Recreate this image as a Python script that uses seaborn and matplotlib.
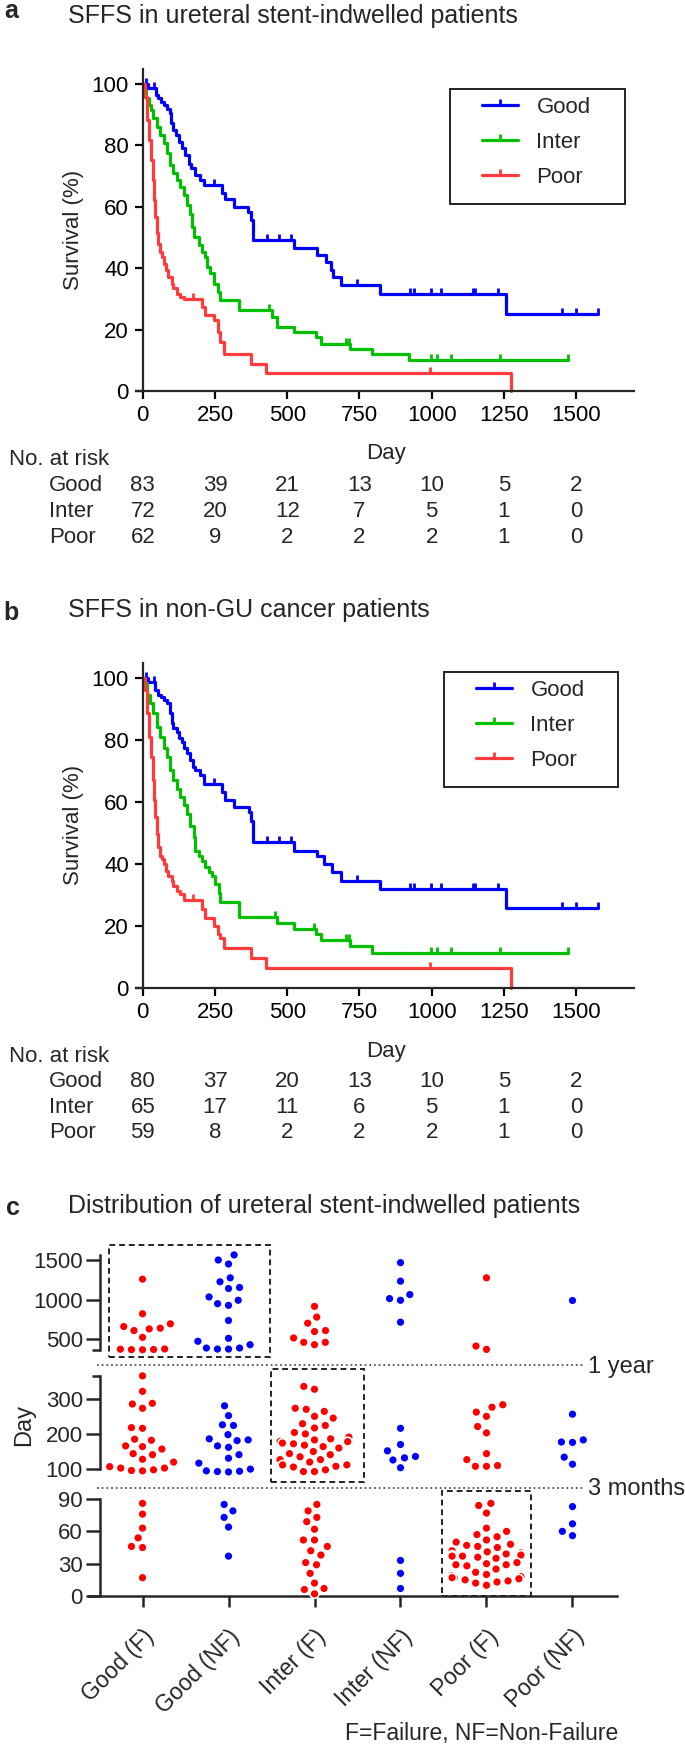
import numpy as np
import pandas as pd
import matplotlib
matplotlib.use('Agg')
import matplotlib.pyplot as plt
from matplotlib.lines import Line2D
from matplotlib.patches import Rectangle
from matplotlib.path import Path
from matplotlib.transforms import blended_transform_factory
import seaborn as sns

sns.set_style('ticks')
plt.rcParams['font.family'] = ['Liberation Sans', 'DejaVu Sans']

# ---------------- data: Kaplan-Meier curves (day, survival %) ----------------
x_ticks = [0, 250, 500, 750, 1000, 1250, 1500]
groups = ['Good', 'Inter', 'Poor']

a_good_day = [0, 18, 46, 54, 62, 72, 83, 93, 98, 104, 116, 127, 135, 145, 159, 167, 182, 197, 213,
              274, 285, 315, 363, 373, 382, 523, 604, 633, 650, 660, 685, 822, 1258]
a_good_surv = [100, 98.8, 96.4, 95.3, 94.2, 93.2, 92.0, 90.4, 87.2, 85.0, 83.4, 81.2, 79.0, 76.8, 74.0,
               72.5, 70.3, 68.7, 67.0, 64.5, 62.5, 60.0, 58.4, 55.7, 49.1, 46.6, 44.4, 42.0, 39.3,
               37.2, 34.4, 31.6, 25.2]
a_good_cens = [12, 38, 248, 431, 471, 512, 743, 926, 937, 998, 1032, 1143, 1151, 1231, 1451, 1501, 1574]

a_inter_day = [0, 5, 12, 20, 28, 37, 49, 60, 72, 83, 95, 106, 118, 130, 141, 153, 162, 170, 178, 193,
               205, 214, 222, 234, 248, 259, 269, 332, 448, 465, 525, 598, 616, 716, 795, 922]
a_inter_surv = [100, 98.0, 95.3, 93.2, 91.5, 88.8, 86.1, 83.4, 80.7, 77.4, 73.6, 70.9, 68.7, 66.5, 63.8,
                60.5, 57.8, 53.5, 50.2, 47.5, 45.3, 43.7, 40.4, 38.3, 35.0, 32.3, 29.6, 26.3, 24.1,
                20.9, 19.2, 17.6, 15.4, 13.8, 12.2, 10.0]
a_inter_cens = [436, 705, 712, 998, 1017, 1067, 1237, 1472]

a_poor_day = [0, 8, 14, 23, 29, 35, 39, 43, 49, 54, 60, 66, 74, 81, 89, 101, 106, 118, 130, 141, 205,
              216, 248, 259, 269, 280, 376, 425, 1275]
a_poor_surv = [100, 95.9, 88.3, 81.7, 75.2, 68.7, 62.2, 56.7, 51.3, 48.0, 45.3, 43.7, 41.5, 39.3, 37.2,
               35.0, 33.4, 31.7, 30.6, 29.8, 27.4, 24.7, 23.0, 19.2, 16.0, 12.2, 8.9, 5.9, 0]
a_poor_cens = [174, 995]

b_good_day = [0, 18, 43, 54, 62, 72, 83, 93, 101, 106, 118, 127, 135, 144, 153, 164, 174, 182, 197, 211,
              274, 285, 315, 367, 376, 382, 523, 604, 627, 656, 685, 822, 1258]
b_good_surv = [100, 98.8, 96.2, 94.6, 94.0, 92.9, 91.9, 88.6, 85.4, 83.8, 82.7, 80.5, 79.5, 77.3, 75.7,
               73.5, 71.4, 70.3, 68.6, 65.9, 63.3, 60.5, 58.4, 56.8, 54.0, 47.0, 44.3, 42.7, 40.0,
               37.3, 34.6, 31.9, 25.7]
b_good_cens = [12, 38, 248, 431, 471, 512, 743, 926, 937, 998, 1032, 1143, 1151, 1231, 1451, 1501, 1574]

b_inter_day = [0, 5, 14, 25, 37, 49, 60, 72, 83, 95, 106, 118, 130, 141, 153, 164, 176, 182, 193, 205,
               216, 228, 240, 251, 263, 269, 332, 465, 525, 598, 616, 716, 795]
b_inter_surv = [100, 98.4, 94.6, 91.9, 88.6, 84.3, 81.1, 77.3, 74.6, 70.3, 67.0, 64.3, 61.6, 58.9, 56.2,
                52.4, 48.6, 44.3, 42.7, 41.1, 38.9, 37.3, 36.2, 33.5, 30.8, 27.6, 23.0, 21.1, 18.9,
                17.3, 15.4, 13.5, 11.4]
b_inter_cens = [459, 593, 703, 712, 998, 1017, 1067, 1237, 1472]

b_poor_day = [0, 8, 14, 23, 29, 35, 39, 43, 49, 54, 60, 66, 74, 81, 89, 101, 106, 118, 130, 141, 205,
              216, 248, 259, 269, 280, 376, 425, 1275]
b_poor_surv = [100, 96.2, 88.6, 81.1, 74.6, 67.0, 60.5, 55.1, 49.7, 45.4, 42.7, 41.6, 40.0, 37.8, 36.2,
               34.6, 33.0, 31.4, 30.3, 28.3, 25.4, 22.7, 20.0, 17.3, 16.2, 13.0, 9.7, 6.5, 0]
b_poor_cens = [174, 995]

a_risk_good = [83, 39, 21, 13, 10, 5, 2]
a_risk_inter = [72, 20, 12, 7, 5, 1, 0]
a_risk_poor = [62, 9, 2, 2, 2, 1, 0]
b_risk_good = [80, 37, 20, 13, 10, 5, 2]
b_risk_inter = [65, 17, 11, 6, 5, 1, 0]
b_risk_poor = [59, 8, 2, 2, 2, 1, 0]

# ---------------- data: panel c (days per patient) ----------------
cats = ['Good (F)', 'Good (NF)', 'Inter (F)', 'Inter (NF)', 'Poor (F)', 'Poor (NF)']
good_f = [1258, 822, 695, 661, 640, 631, 610, 525, 368, 370, 372, 375, 378,
          365, 321, 287, 285, 273, 218, 216, 185, 182, 166, 164, 157, 144, 141, 128, 120, 107, 103, 103,
          98, 96, 95,
          86, 76, 63, 54, 46, 45, 17]
good_nf = [1564, 1500, 1449, 1275, 1225, 1153, 1140, 1034, 992, 949, 928, 737, 513, 475, 432, 390, 390,
           377, 377,
           280, 252, 226, 224, 198, 186, 183, 181, 166, 162, 141, 131, 117, 100, 95, 94, 93, 92,
           85, 79, 73, 64, 37]
inter_f = [915, 780, 703, 610, 598, 517, 462, 462, 432,
           335, 327, 273, 270, 264, 250, 245, 229, 224, 217, 204, 200, 191, 186, 183, 179, 178, 174, 172,
           168, 164, 160, 150, 144, 141, 135, 127, 127, 120, 112, 112, 108, 106, 98, 93, 93,
           85, 79, 73, 69, 62, 52, 52, 46, 42, 38, 31, 29, 21, 12, 7, 6, 2]
inter_nf = [1466, 1233, 1064, 1013, 992, 716,
            216, 170, 152, 136, 132, 126, 104,
            33, 21, 7]
poor_f = [1275, 415, 373,
          283, 276, 262, 250, 221, 203, 144, 127, 110, 108, 108,
          86, 84, 77, 63, 60, 57, 55, 52, 50, 48, 47, 46, 45, 42, 41, 40, 39, 38, 38, 37, 37, 36, 35, 31,
          30, 29, 29, 28, 25, 22, 20, 19, 18, 17, 17, 16, 15, 14, 13, 12, 10]
poor_nf = [992,
           256, 183, 177, 176, 134, 114,
           83, 67, 60, 56]

BLUE, GREEN, RED = '#0000ff', '#00c000', '#ff3b3b'
km_colors = [BLUE, GREEN, RED]
dot_colors = ['#ff0000', '#0000ff'] * 3

W, H = 685, 1747
fig = plt.figure(figsize=(W / 100, H / 100), dpi=100)


def fx(px):
    return px / W


def fy(py):
    return 1 - py / H


def rect(l, t, r, b):
    return [l / W, 1 - b / H, (r - l) / W, (b - t) / H]


TICK = Path([(0, 0), (0, 1)])
FS = 16


def step_at(days, surv, t):
    i = np.searchsorted(days, t, side='right') - 1
    return surv[i]


def km_panel(top, bottom, series, risks, leg_box, leg_anchor, ybase):
    ax = fig.add_axes(rect(136.4, top, 634, bottom))
    for (days, surv, cens), col in zip(series, km_colors):
        end = max(days[-1], max(cens))
        xs = days + [end]
        ys = surv + [surv[-1]]
        sns.lineplot(x=xs, y=ys, ax=ax, color=col, linewidth=2.3, drawstyle='steps-post',
                     estimator=None, sort=False, clip_on=False)
        cy = [step_at(days, surv, c) for c in cens]
        ax.plot(cens, cy, ls='none', marker=TICK, ms=8.5, mew=2, color=col, clip_on=False)
    ax.set_xlim(-22, 1700)
    ax.set_ylim(0, 105)
    ax.spines['left'].set_position(('data', 0))
    ax.spines[['top', 'right']].set_visible(False)
    for s in ['left', 'bottom']:
        ax.spines[s].set_linewidth(1.6)
    ax.set_xticks(x_ticks)
    ax.set_yticks([0, 20, 40, 60, 80, 100])
    ax.tick_params(labelsize=FS, width=1.6, length=6, pad=4, colors='black')
    ax.set_ylabel('Survival (%)', fontsize=FS)
    ax.yaxis.set_label_coords(-0.105, 0.5)
    ax.set_xlabel('')

    handles = [Line2D([], [], color=c, lw=2.3, marker=TICK, ms=8.5, mew=2) for c in km_colors]
    ax.legend(handles, groups, loc='upper left', bbox_to_anchor=(fx(leg_anchor[0]), fy(leg_anchor[1])),
              bbox_transform=fig.transFigure, frameon=False, fontsize=FS, handlelength=1.6,
              handletextpad=0.85, labelspacing=0.62, borderpad=0, borderaxespad=0)
    l, t, r, b = leg_box
    fig.add_artist(Rectangle((fx(l), fy(b)), (r - l) / W, (b - t) / H, transform=fig.transFigure,
                             fill=False, lw=1.4, edgecolor='#222222'))

    # number at risk table
    fig.text(fx(386), fy(ybase[0]), 'Day', ha='center', va='baseline', fontsize=FS)
    fig.text(fx(9), fy(ybase[1]), 'No. at risk', ha='left', va='baseline', fontsize=FS)
    trans = blended_transform_factory(ax.transData, fig.transFigure)
    for name, vals, yb in zip(groups, risks, ybase[2:]):
        fig.text(fx(49), fy(yb), name, ha='left', va='baseline', fontsize=FS)
        for x, v in zip(x_ticks, vals):
            ax.text(x, fy(yb), str(v), transform=trans, ha='center', va='baseline', fontsize=FS)
    return ax


# ---------------- panel a ----------------
fig.text(fx(4), fy(18.5), 'a', fontsize=18, fontweight='bold', va='baseline')
fig.text(fx(68), fy(23.5), 'SFFS in ureteral stent-indwelled patients', fontsize=18, va='baseline')
km_panel(68.6, 391,
         [(a_good_day, a_good_surv, a_good_cens), (a_inter_day, a_inter_surv, a_inter_cens),
          (a_poor_day, a_poor_surv, a_poor_cens)],
         [a_risk_good, a_risk_inter, a_risk_poor],
         (450, 89, 625, 204), (482, 97), [459, 465, 491, 517, 543])

# ---------------- panel b ----------------
fig.text(fx(3), fy(620), 'b', fontsize=18, fontweight='bold', va='baseline')
fig.text(fx(68), fy(617), 'SFFS in non-GU cancer patients', fontsize=18, va='baseline')
km_panel(662.5, 988,
         [(b_good_day, b_good_surv, b_good_cens), (b_inter_day, b_inter_surv, b_inter_cens),
          (b_poor_day, b_poor_surv, b_poor_cens)],
         [b_risk_good, b_risk_inter, b_risk_poor],
         (444, 672, 618, 787), (476, 680), [1057, 1062, 1087, 1113, 1138])

# ---------------- panel c ----------------
fig.text(fx(6), fy(1215), 'c', fontsize=18, fontweight='bold', va='baseline')
fig.text(fx(68), fy(1213), 'Distribution of ureteral stent-indwelled patients', fontsize=18,
         va='baseline')

day_lists = [good_f, good_nf, inter_f, inter_nf, poor_f, poor_nf]
df = pd.DataFrame({'group': np.repeat(cats, [len(v) for v in day_lists]),
                   'day': np.concatenate(day_lists)})
df['seg'] = np.where(df['day'] > 365, 'top', np.where(df['day'] >= 91, 'mid', 'bot'))

segments = [
    ('top', (1248, 1352), (340, 1651), (365, 1560), [500, 1000, 1500], [365]),
    ('mid', (1370, 1482), (63.4, 381.7), (100, 365), [100, 200, 300], [365]),
    ('bot', (1490, 1598), (-1.86, 98.4), (0, 90), [0, 30, 60, 90], []),
]
axes_c = []
for seg, (t, b), ylim, bounds, ticks, caps in segments:
    ax = fig.add_axes(rect(89.2, t, 617.2, b))
    sns.swarmplot(data=df[df['seg'] == seg], x='group', y='day', order=cats, hue='group',
                  hue_order=cats, palette=dot_colors, size=6.4, linewidth=1.2, edgecolor='white',
                  legend=False, ax=ax, clip_on=False)
    ax.set_xlim(-0.62, 5.52)
    ax.set_ylim(*ylim)
    ax.set_xlabel('')
    ax.set_ylabel('')
    ax.spines[['top', 'right']].set_visible(False)
    ax.spines['left'].set_position(('data', -0.5))
    ax.spines['left'].set_bounds(*bounds)
    ax.spines['left'].set_linewidth(1.8)
    ax.set_yticks(ticks)
    ax.set_yticks(caps, minor=True)
    ax.tick_params(axis='y', labelsize=FS, width=1.8, length=10, pad=2)
    ax.tick_params(axis='y', which='minor', width=1.8, length=6)
    if seg != 'bot':
        ax.spines['bottom'].set_visible(False)
        ax.tick_params(axis='x', bottom=False, labelbottom=False)
    else:
        ax.spines['bottom'].set_position(('data', 0))
        ax.spines['bottom'].set_linewidth(1.8)
        ax.tick_params(axis='x', labelsize=16.5, width=1.8, length=8, pad=13)
        ax.set_xticks(range(len(cats)))
        ax.set_xticklabels(cats, rotation=45, ha='right', rotation_mode='anchor')
    ax.patch.set_alpha(0)
    axes_c.append(ax)

fig.text(fx(24), fy(1425), 'Day', rotation=90, ha='center', va='center', fontsize=17)

# break lines between the three y-ranges
for yb, label, base in [(1365, '1 year', 1373), (1488, '3 months', 1495)]:
    fig.add_artist(Line2D([fx(97), fx(584)], [fy(yb), fy(yb)], transform=fig.transFigure,
                          ls=(0, (1, 1.6)), lw=1.3, color='#555555'))
    fig.text(fx(588), fy(base), label, ha='left', va='baseline', fontsize=17)

# highlighted groups
btrans = blended_transform_factory(axes_c[2].transData, fig.transFigure)
for x0, x1, t, b in [(-0.385, 1.483, 1245, 1357), (1.49, 2.58, 1369, 1482), (3.48, 4.52, 1491, 1596)]:
    fig.add_artist(Rectangle((x0, fy(b)), x1 - x0, (b - t) / H, transform=btrans, fill=False,
                             ls=(0, (3, 2)), lw=1.4, edgecolor='#222222'))

fig.text(fx(618), fy(1740), 'F=Failure, NF=Non-Failure', ha='right', va='baseline', fontsize=16.5)

fig.savefig('out.png', dpi=100)
